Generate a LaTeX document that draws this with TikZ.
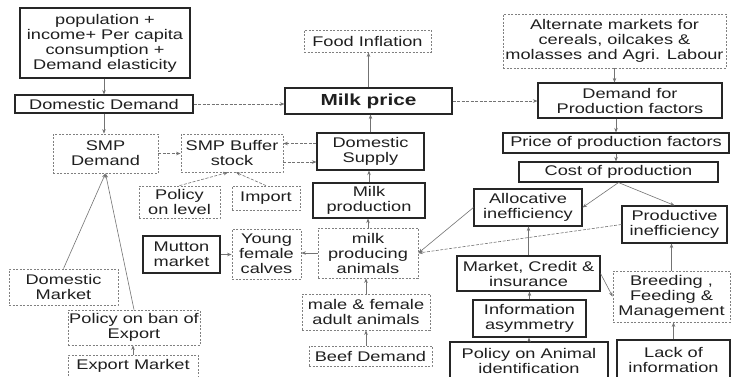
\documentclass[tikz,border=0pt]{standalone}
\usepackage{fontspec}
\setmainfont{Liberation Sans}[FakeStretch=1.3]
\usetikzlibrary{arrows.meta,calc}
\tikzset{
  base/.style={align=center, inner sep=0pt, text=black!88, font=\fontsize{14}{15}\selectfont},
  wh/.style 2 args={minimum width=#1, minimum height=#2},
  sbox/.style={base, draw=black!85, line width=1.1pt},
  dbox/.style={base, draw=black!50, line width=0.8pt, dash pattern=on 2pt off 1.5pt},
  arr/.style={draw=black!55, line width=0.6pt, -{Stealth[length=4.5pt,width=3.5pt]}},
  darr/.style={arr, dash pattern=on 3pt off 1.5pt}
}
\begin{document}
\begin{tikzpicture}[x=1pt,y=-1pt]
\path[use as bounding box, fill=white] (0,0) rectangle (731,376);
\clip (0,0) rectangle (731,376);

% left column
\node[sbox, wh={170pt}{70pt}] (pop) at (105,43) {population +\\income+ Per capita\\consumption +\\Demand elasticity};
\node[sbox, wh={178pt}{18pt}] (dd) at (104,104) {Domestic Demand};
\node[dbox, wh={105pt}{39pt}] (smpd) at (105.5,153.5) {SMP\\Demand};
\node[dbox, wh={109pt}{36pt}] (dmkt) at (63.5,287) {Domestic\\Market};
\node[dbox, wh={132pt}{35pt}] (pban) at (134,327.5) {Policy on ban of\\Export};
\node[dbox, wh={130pt}{22pt}] (exp) at (133,366) {Export Market};

% centre-left
\node[dbox, wh={102pt}{38pt}] (smpb) at (232,153) {SMP Buffer\\stock};
\node[dbox, wh={81pt}{32pt}] (pol) at (179.5,202) {Policy\\on level};
\node[dbox, wh={68pt}{24pt}] (imp) at (266,198) {Import};
\node[sbox, wh={77pt}{37pt}] (mutton) at (181.5,254.5) {Mutton\\market};
\node[dbox, wh={69pt}{50pt}] (young) at (266.5,254) {Young\\female\\calves};

% centre
\node[dbox, wh={127pt}{22pt}] (food) at (367.5,41) {Food Inflation};
\node[sbox, wh={167pt}{26pt}, font=\fontsize{16}{18}\selectfont\bfseries] (milk) at (368.5,101) {Milk price};
\node[sbox, wh={107pt}{37pt}] (dsup) at (370.5,151.5) {Domestic\\Supply};
\node[sbox, wh={112pt}{35pt}] (mprod) at (369,200.5) {Milk\\production};
\node[dbox, wh={100pt}{50pt}] (mpa) at (368,253) {milk\\producing\\animals};
\node[dbox, wh={128pt}{36pt}] (mfa) at (366,312) {male \& female\\adult animals};
\node[dbox, wh={123pt}{20pt}] (beef) at (370.5,356) {Beef Demand};

% right
\node[dbox, wh={223pt}{54pt}] (alt) at (614.5,41) {Alternate markets for\\cereals, oilcakes \&\\molasses and Agri. Labour};
\node[sbox, wh={184pt}{35pt}] (dpf) at (630,100.5) {Demand for\\Production factors};
\node[sbox, wh={226pt}{20pt}] (ppf) at (616,143) {Price of production factors};
\node[sbox, wh={199pt}{20pt}] (cop) at (618.5,172) {Cost of production};
\node[sbox, wh={108pt}{37pt}] (alloc) at (528,207.5) {Allocative\\inefficiency};
\node[sbox, wh={105pt}{37pt}] (prodi) at (674.5,224.5) {Productive\\inefficiency};
\node[sbox, wh={143pt}{35pt}] (mci) at (528.5,273.5) {Market, Credit \&\\insurance};
\node[dbox, wh={117pt}{51pt}] (bfm) at (671.5,296.5) {Breeding ,\\Feeding \&\\Management};
\node[sbox, wh={113pt}{37pt}] (info) at (529.5,318.5) {Information\\asymmetry};
\node[sbox, wh={158pt}{38pt}] (pai) at (529,361) {Policy on Animal\\identification};
\node[sbox, wh={113pt}{40pt}] (lack) at (673.5,360) {Lack of\\information};

% connectors
\draw[arr] (pop.south -| dd.north) -- (dd.north);
\draw[darr] (dd.east) -- (dd.east -| milk.west);
\draw[arr] (dd.south) -- (dd.south |- smpd.north);
\draw[arr] (milk.north) -- (milk.north |- food.south);
\draw[darr] (milk.east) -- (milk.east -| dpf.west);
\draw[arr] (dsup.north) -- (dsup.north |- milk.south);
\draw[arr] (alt.south) -- (alt.south |- dpf.north);
\draw[arr] (ppf.north |- dpf.south) -- (ppf.north);
\draw[arr] (ppf.south) -- (ppf.south |- cop.north);
\draw[arr] (cop.south) -- (alloc.east);
\draw[arr] (cop.south) -- (prodi.north);
\draw[darr] (smpd.east) -- (smpd.east -| smpb.west);
\draw[darr] ([yshift=8pt]dsup.west) -- ([yshift=8pt]dsup.west -| smpb.east);
\draw[darr] ([yshift=-9pt]smpb.east) -- ([yshift=-9pt]smpb.east -| dsup.west);
\draw[darr] (pol.north) -- ([xshift=-4pt]smpb.south);
\draw[darr] (imp.north) -- ([xshift=4pt]smpb.south);
\draw[arr] (mprod.north) -- (mprod.north |- dsup.south);
\draw[arr] (mpa.north) -- (mpa.north |- mprod.south);
\draw[arr] (mutton.east) -- (mutton.east -| young.west);
\draw[arr] (mpa.west) -- (mpa.west -| young.east);
\draw[arr] (alloc.west) -- (mpa.east);
\draw[darr] (prodi.west) -- (mpa.east);
\draw[arr] (mci.north) -- (mci.north |- alloc.south);
\draw[arr] (mci.east) -- (bfm.west);
\draw[arr] (bfm.north) -- (bfm.north |- prodi.south);
\draw[arr] (info.north) -- (info.north |- mci.south);
\draw[arr] (pai.north) -- (pai.north |- info.south);
\draw[arr] (lack.north) -- (lack.north |- bfm.south);
\draw[arr] (mfa.north) -- (mfa.north |- mpa.south);
\draw[arr] (mfa.south |- beef.north) -- (mfa.south);
\draw[arr] (dmkt.north) -- (smpd.south);
\draw[arr] (pban.north) -- (smpd.south);
\draw[arr] (exp.north) -- (exp.north |- pban.south);
\end{tikzpicture}
\end{document}
